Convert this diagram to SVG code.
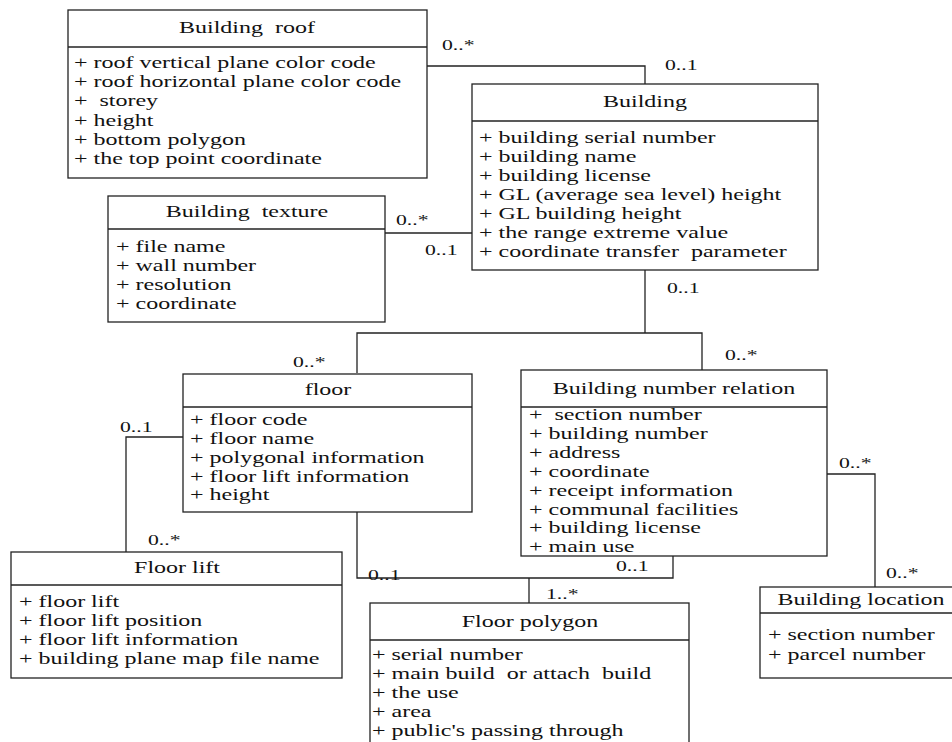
<svg xmlns="http://www.w3.org/2000/svg" width="952" height="742" viewBox="0 0 952 742" xml:space="preserve">
<style>
.box{fill:#fff;stroke:#222;stroke-width:1.3}
.ln{fill:none;stroke:#222;stroke-width:1.3}
text{font-family:"Liberation Serif","Times New Roman",serif;fill:#111;white-space:pre}
.t{font-size:16px;text-anchor:middle}
.a{font-size:16px}
.m{font-size:15.5px}
</style>
<rect width="952" height="742" fill="#fff"/>
<g id="connectors">
<polyline class="ln" points="427,66 645,66 645,84"/>
<line class="ln" x1="385" y1="233" x2="472" y2="233"/>
<polyline class="ln" points="645,270 645,333"/>
<polyline class="ln" points="357,373 357,333 702,333 702,370"/>
<polyline class="ln" points="183,437 126,437 126,552"/>
<polyline class="ln" points="357,512 357,578 673,578 673,556"/>
<line class="ln" x1="529" y1="578" x2="529" y2="603"/>
<polyline class="ln" points="827,474 875,474 875,587"/>
<g class="m">
<text transform="translate(442,50) scale(1.4,1)">0..*</text>
<text transform="translate(665,70) scale(1.4,1)">0..1</text>
<text transform="translate(396,225) scale(1.4,1)">0..*</text>
<text transform="translate(425,255) scale(1.4,1)">0..1</text>
<text transform="translate(667,293) scale(1.4,1)">0..1</text>
<text transform="translate(293,367) scale(1.4,1)">0..*</text>
<text transform="translate(725,360) scale(1.4,1)">0..*</text>
<text transform="translate(120,432) scale(1.4,1)">0..1</text>
<text transform="translate(148,545) scale(1.4,1)">0..*</text>
<text transform="translate(368,580) scale(1.4,1)">0..1</text>
<text transform="translate(616,571) scale(1.4,1)">0..1</text>
<text transform="translate(546,599) scale(1.4,1)">1..*</text>
<text transform="translate(839,468) scale(1.4,1)">0..*</text>
<text transform="translate(886,578) scale(1.4,1)">0..*</text>
</g>
</g>
<g id="building-roof">
<rect class="box" x="68" y="10" width="359" height="168"/>
<line class="ln" x1="68" y1="47" x2="427" y2="47"/>
<text class="t" transform="translate(247,33) scale(1.5,1)">Building  roof</text>
<text class="a" transform="translate(74,68) scale(1.5,1)">+ roof vertical plane color code</text>
<text class="a" transform="translate(74,87) scale(1.5,1)">+ roof horizontal plane color code</text>
<text class="a" transform="translate(74,106) scale(1.5,1)">+  storey</text>
<text class="a" transform="translate(74,126) scale(1.5,1)">+ height</text>
<text class="a" transform="translate(74,145) scale(1.5,1)">+ bottom polygon</text>
<text class="a" transform="translate(74,164) scale(1.5,1)">+ the top point coordinate</text>
</g>
<g id="building">
<rect class="box" x="472" y="84" width="346" height="186"/>
<line class="ln" x1="472" y1="121" x2="818" y2="121"/>
<text class="t" transform="translate(645,107) scale(1.5,1)">Building</text>
<text class="a" transform="translate(479,143) scale(1.5,1)">+ building serial number</text>
<text class="a" transform="translate(479,162) scale(1.5,1)">+ building name</text>
<text class="a" transform="translate(479,181) scale(1.5,1)">+ building license</text>
<text class="a" transform="translate(479,200) scale(1.5,1)">+ GL (average sea level) height</text>
<text class="a" transform="translate(479,219) scale(1.5,1)">+ GL building height</text>
<text class="a" transform="translate(479,238) scale(1.5,1)">+ the range extreme value</text>
<text class="a" transform="translate(479,257) scale(1.5,1)">+ coordinate transfer  parameter</text>
</g>
<g id="building-texture">
<rect class="box" x="108" y="196" width="277" height="126"/>
<line class="ln" x1="108" y1="229" x2="385" y2="229"/>
<text class="t" transform="translate(247,217) scale(1.5,1)">Building  texture</text>
<text class="a" transform="translate(116,252) scale(1.5,1)">+ file name</text>
<text class="a" transform="translate(116,271) scale(1.5,1)">+ wall number</text>
<text class="a" transform="translate(116,290) scale(1.5,1)">+ resolution</text>
<text class="a" transform="translate(116,309) scale(1.5,1)">+ coordinate</text>
</g>
<g id="floor">
<rect class="box" x="183" y="374" width="289" height="138"/>
<line class="ln" x1="183" y1="407" x2="472" y2="407"/>
<text class="t" transform="translate(328,395) scale(1.5,1)">floor</text>
<text class="a" transform="translate(190,425) scale(1.5,1)">+ floor code</text>
<text class="a" transform="translate(190,444) scale(1.5,1)">+ floor name</text>
<text class="a" transform="translate(190,463) scale(1.5,1)">+ polygonal information</text>
<text class="a" transform="translate(190,482) scale(1.5,1)">+ floor lift information</text>
<text class="a" transform="translate(190,500) scale(1.5,1)">+ height</text>
</g>
<g id="building-number-relation">
<rect class="box" x="521" y="370" width="306" height="186"/>
<line class="ln" x1="521" y1="407" x2="827" y2="407"/>
<text class="t" transform="translate(674,394) scale(1.5,1)">Building number relation</text>
<text class="a" transform="translate(529,420) scale(1.5,1)">+  section number</text>
<text class="a" transform="translate(529,439) scale(1.5,1)">+ building number</text>
<text class="a" transform="translate(529,458) scale(1.5,1)">+ address</text>
<text class="a" transform="translate(529,477) scale(1.5,1)">+ coordinate</text>
<text class="a" transform="translate(529,496) scale(1.5,1)">+ receipt information</text>
<text class="a" transform="translate(529,515) scale(1.5,1)">+ communal facilities</text>
<text class="a" transform="translate(529,533) scale(1.5,1)">+ building license</text>
<text class="a" transform="translate(529,552) scale(1.5,1)">+ main use</text>
</g>
<g id="floor-lift">
<rect class="box" x="11" y="552" width="331" height="126"/>
<line class="ln" x1="11" y1="585" x2="342" y2="585"/>
<text class="t" transform="translate(177,573) scale(1.5,1)">Floor lift</text>
<text class="a" transform="translate(19,607) scale(1.5,1)">+ floor lift</text>
<text class="a" transform="translate(19,626) scale(1.5,1)">+ floor lift position</text>
<text class="a" transform="translate(19,645) scale(1.5,1)">+ floor lift information</text>
<text class="a" transform="translate(19,664) scale(1.5,1)">+ building plane map file name</text>
</g>
<g id="floor-polygon">
<rect class="box" x="370" y="603" width="319" height="160"/>
<line class="ln" x1="370" y1="640" x2="689" y2="640"/>
<text class="t" transform="translate(530,627) scale(1.5,1)">Floor polygon</text>
<text class="a" transform="translate(372,660) scale(1.5,1)">+ serial number</text>
<text class="a" transform="translate(372,679) scale(1.5,1)">+ main build  or attach  build</text>
<text class="a" transform="translate(372,698) scale(1.5,1)">+ the use</text>
<text class="a" transform="translate(372,717) scale(1.5,1)">+ area</text>
<text class="a" transform="translate(372,736) scale(1.5,1)">+ public's passing through</text>
</g>
<g id="building-location">
<rect class="box" x="760" y="587" width="202" height="91"/>
<line class="ln" x1="760" y1="613" x2="962" y2="613"/>
<text class="t" transform="translate(861,605) scale(1.5,1)">Building location</text>
<text class="a" transform="translate(768,640) scale(1.5,1)">+ section number</text>
<text class="a" transform="translate(768,660) scale(1.5,1)">+ parcel number</text>
</g>
</svg>
